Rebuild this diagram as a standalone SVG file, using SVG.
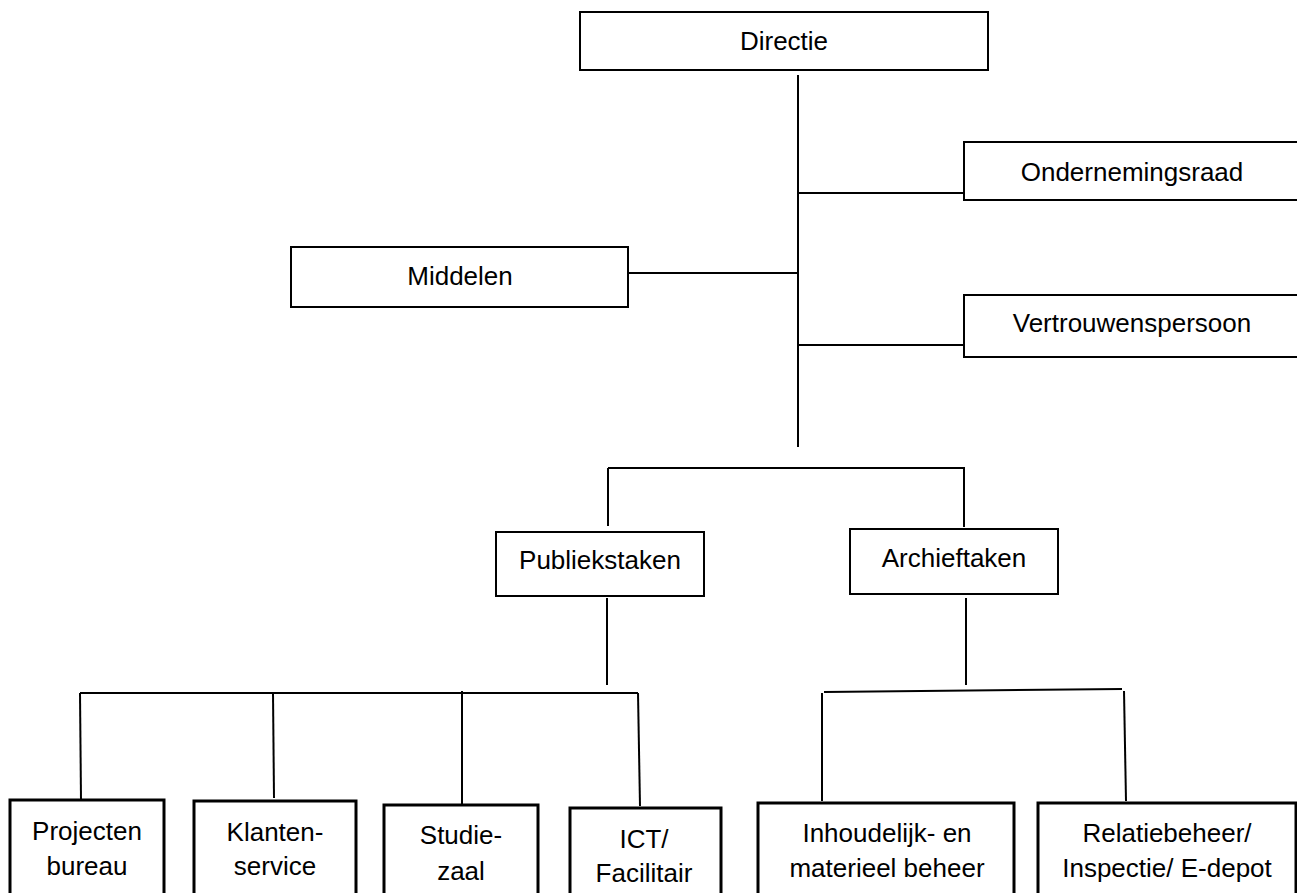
<svg xmlns="http://www.w3.org/2000/svg" width="1297" height="893" viewBox="0 0 1297 893">
<style>
.box{fill:#fff;stroke:#000;stroke-width:2}
.boxb{fill:#fff;stroke:#000;stroke-width:3}
.t{font-family:"Liberation Sans",Arial,sans-serif;font-size:26px;fill:#000;text-anchor:middle}
.c line{stroke:#000;stroke-width:2}
</style>
<rect width="1297" height="893" fill="#fff"/>
<g class="c" id="connectors">
<line x1="798" y1="75" x2="798" y2="447"/>
<line x1="798" y1="193" x2="964" y2="193"/>
<line x1="628" y1="273" x2="798" y2="273"/>
<line x1="798" y1="345" x2="964" y2="345"/>
<line x1="608" y1="468" x2="965" y2="468"/>
<line x1="608" y1="468" x2="608" y2="526"/>
<line x1="964" y1="468" x2="964" y2="527"/>
<line x1="607" y1="598" x2="607" y2="685"/>
<line x1="80" y1="693" x2="638" y2="693"/>
<line x1="80" y1="693" x2="81" y2="800"/>
<line x1="273" y1="693" x2="274" y2="798"/>
<line x1="462" y1="691" x2="462" y2="804"/>
<line x1="638" y1="693" x2="640" y2="806"/>
<line x1="966" y1="598" x2="966" y2="685"/>
<line x1="824" y1="692" x2="1122" y2="689"/>
<line x1="822" y1="693" x2="822" y2="801"/>
<line x1="1124" y1="691" x2="1126" y2="801"/>
</g>
<g id="directie"><rect class="box" x="580" y="12" width="408" height="58"/><text class="t" x="784" y="50">Directie</text></g>
<g id="ondernemingsraad"><rect class="box" x="964" y="142" width="340" height="58"/><text class="t" x="1132" y="181">Ondernemingsraad</text></g>
<g id="middelen"><rect class="box" x="291" y="247" width="337" height="60"/><text class="t" x="460" y="285">Middelen</text></g>
<g id="vertrouwenspersoon"><rect class="box" x="964" y="295" width="340" height="62"/><text class="t" x="1132" y="332">Vertrouwenspersoon</text></g>
<g id="publiekstaken"><rect class="box" x="496" y="532" width="208" height="64"/><text class="t" x="600" y="569">Publiekstaken</text></g>
<g id="archieftaken"><rect class="box" x="850" y="529" width="208" height="65"/><text class="t" x="954" y="567">Archieftaken</text></g>
<g id="projectenbureau"><rect class="boxb" x="10" y="800" width="154" height="100"/><text class="t" x="87" y="840">Projecten</text><text class="t" x="87" y="875">bureau</text></g>
<g id="klantenservice"><rect class="boxb" x="194" y="801" width="162" height="100"/><text class="t" x="275" y="841">Klanten-</text><text class="t" x="275" y="875">service</text></g>
<g id="studiezaal"><rect class="boxb" x="384" y="805" width="154" height="100"/><text class="t" x="461" y="844">Studie-</text><text class="t" x="461" y="880">zaal</text></g>
<g id="ict"><rect class="boxb" x="570" y="808" width="151" height="100"/><text class="t" x="644" y="848">ICT/</text><text class="t" x="644" y="882">Facilitair</text></g>
<g id="inhoudelijk"><rect class="boxb" x="758" y="803" width="256" height="100"/><text class="t" x="887" y="842">Inhoudelijk- en</text><text class="t" x="887" y="877">materieel beheer</text></g>
<g id="relatiebeheer"><rect class="boxb" x="1038" y="803" width="258" height="100"/><text class="t" x="1167" y="842">Relatiebeheer/</text><text class="t" x="1167" y="877">Inspectie/ E-depot</text></g>
</svg>
